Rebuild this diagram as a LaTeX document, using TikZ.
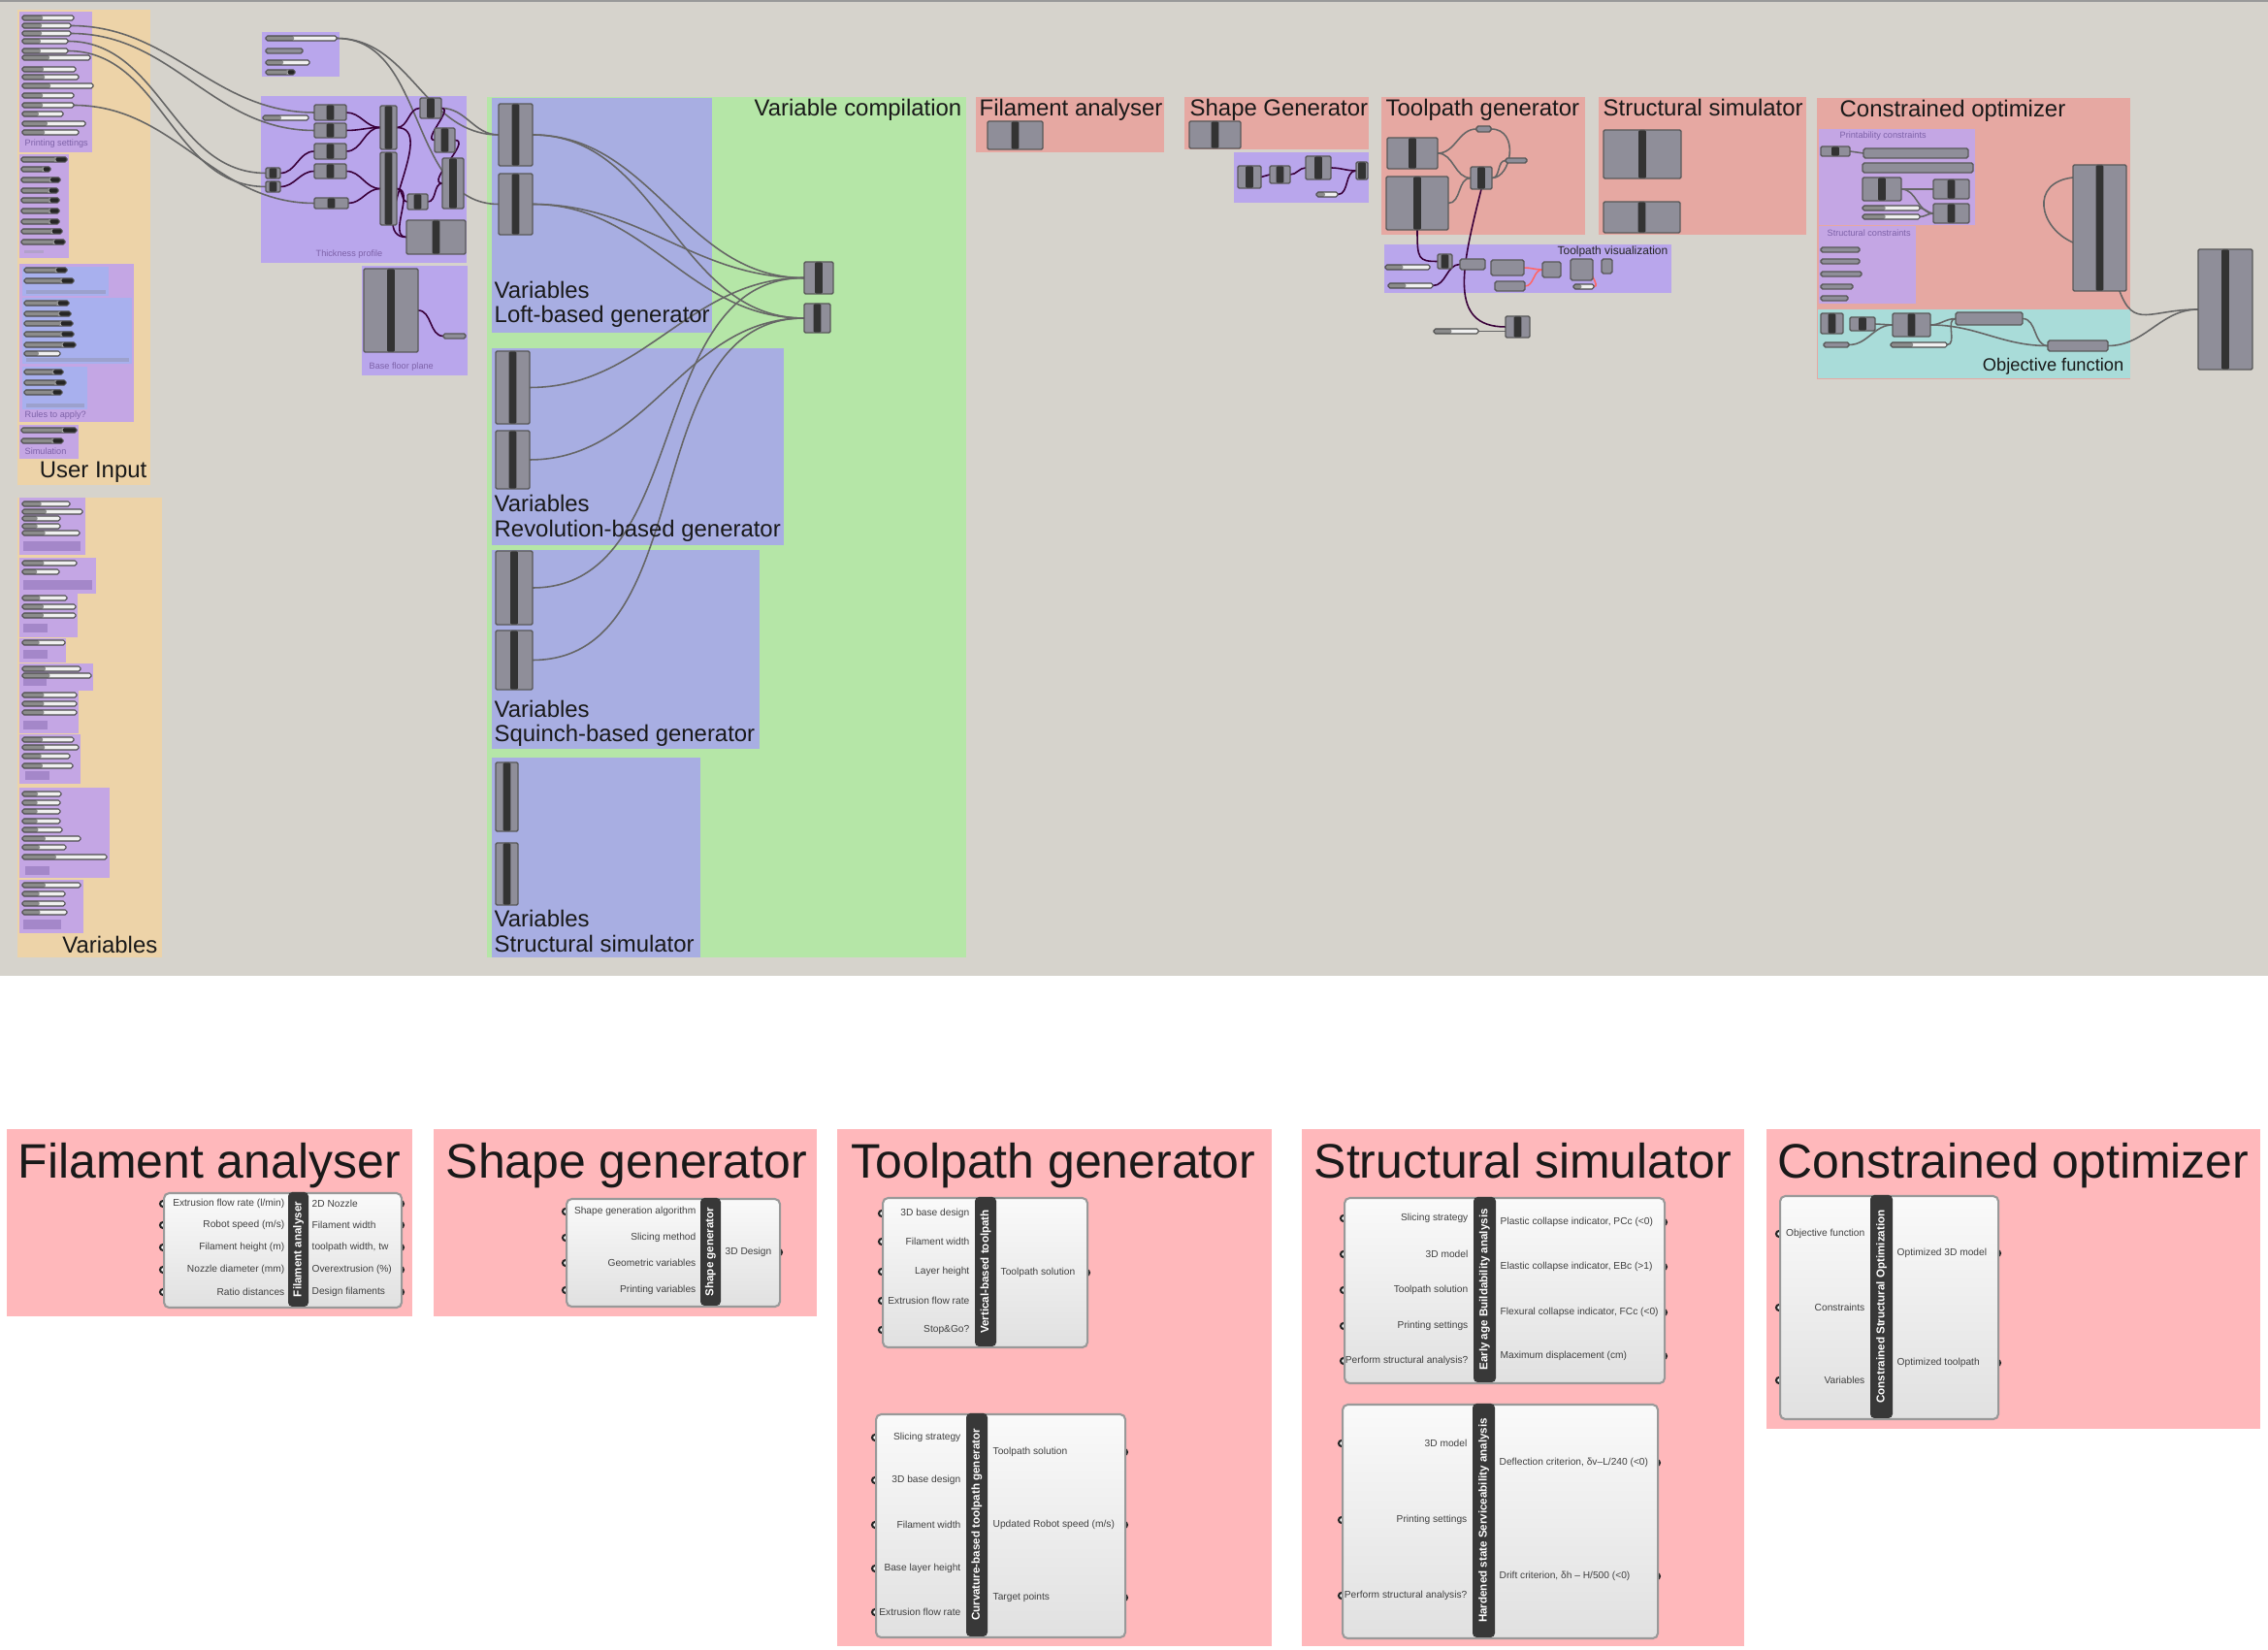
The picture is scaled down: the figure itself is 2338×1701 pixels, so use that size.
\documentclass[tikz,border=0pt]{standalone}
\usepackage{fontspec}
\setmainfont{Liberation Sans}
\usepackage{tikz}
\usetikzlibrary{calc}
\usepackage{xcolor}
\definecolor{canvas}{HTML}{D6D3CC}
\definecolor{uinput}{HTML}{EDD3A8}
\definecolor{vcomp}{HTML}{B5E6A7}
\definecolor{lav}{HTML}{A8AEE2}
\definecolor{purp}{HTML}{C4A6E4}
\definecolor{purpb}{HTML}{B9A6EC}
\definecolor{salmon}{HTML}{E6A8A2}
\definecolor{objcyan}{HTML}{A9DCD9}
\definecolor{panel}{HTML}{FFB8BB}
\definecolor{compgray}{HTML}{8F8E99}
\definecolor{rulesblue}{HTML}{A8B0EE}
\definecolor{grplabel}{HTML}{7D62A8}
\pgfdeclarelayer{grp}
\pgfdeclarelayer{wires}
\pgfsetlayers{grp,wires,main}

\begin{document}
\begin{tikzpicture}[x=0.01cm,y=-0.01cm,
    ttl/.style={font=\fontsize{6.8}{7}\selectfont, text=black!90, inner sep=0, anchor=base west},
    bigttl/.style={font=\fontsize{14.2}{15}\selectfont, text=black!90, inner sep=0, anchor=base west},
    tiny/.style={font=\fontsize{2.6}{3}\selectfont, text=grplabel, inner sep=0, anchor=base west},
    comp/.style 2 args={draw=black!65, fill=compgray, line width=0.4pt, rounded corners=0.4pt,
      anchor=north west, inner sep=0, outer sep=0,
      minimum width=#1*0.01cm, minimum height=#2*0.01cm,
      path picture={\fill[black!80] ([xshift=-1.1pt]path picture bounding box.north)
        rectangle ([xshift=1.1pt]path picture bounding box.south);}},
    pbar/.style 2 args={draw=black!65, fill=compgray, line width=0.4pt, rounded corners=0.5pt,
      anchor=north west, inner sep=0, outer sep=0,
      minimum width=#1*0.01cm, minimum height=#2*0.01cm},
    sld/.style={draw=black!70, fill=gray!12, line width=0.3pt, rounded corners=0.5pt,
      anchor=north west, inner sep=0, outer sep=0, minimum height=0.05cm, minimum width=#1*0.01cm,
      path picture={\fill[black!45] (path picture bounding box.south west)
        rectangle ($(path picture bounding box.north west)!0.4!(path picture bounding box.north east)$);}},
    nsld/.style={sld=#1,
      path picture={\fill[black!45] (path picture bounding box.south west)
        rectangle ($(path picture bounding box.north west)!0.75!(path picture bounding box.north east)$);
        \fill[black!85] ($(path picture bounding box.south west)!0.75!(path picture bounding box.south east)$)
        rectangle (path picture bounding box.north east);}},
    wire/.style={draw=black!60, line width=0.45pt},
    pwire/.style={draw=black!55!violet, line width=0.45pt},
    rwire/.style={draw=red!60, line width=0.45pt},
    gbox/.style 2 args={draw=black!40, top color=gray!4, bottom color=gray!24, line width=0.6pt,
      rounded corners=1.5pt, anchor=north west, inner sep=0,
      minimum width=#1*0.01cm, minimum height=#2*0.01cm},
    lbar/.style 2 args={fill=black!78, text=white, rounded corners=1.2pt, rotate=90, inner sep=0,
      minimum width=#1*0.01cm, minimum height=#2*0.01cm, font=\bfseries\fontsize{3.3}{4}\selectfont},
    inl/.style={font=\fontsize{2.9}{3.3}\selectfont, text=black!75, inner sep=0, anchor=east},
    outl/.style={inl, anchor=west},
    port/.style={draw=black!85, fill=white, line width=0.6pt}]
\useasboundingbox (0,0) rectangle (2338,1701);

\begin{pgfonlayer}{grp}
  \fill[white] (0,0) rectangle (2338,1701);
  \fill[canvas] (0,0) rectangle (2338,1006);
  \draw[black!40, line width=0.8pt] (0,1) -- (2338,1);
  \fill[uinput] (18,10) rectangle (155,500);
  \fill[purp] (20,12) rectangle (95,157);
  \fill[purp] (20,159) rectangle (71,266);
  \fill[purp] (20,272) rectangle (138,435);
  \fill[rulesblue] (23,275) rectangle (112,305);
  \fill[rulesblue] (23,307) rectangle (136,375);
  \fill[rulesblue] (23,378) rectangle (90,422);
  \fill[purp] (20,438) rectangle (81,473);
  \fill[uinput] (18,513) rectangle (167,987);
  \foreach \a/\b/\c/\d in {20/513/88/572, 20/575/99/612, 20/612/80/657, 20/658/68/683, 20/684/96/712,
      20/712/81/756, 20/757/83/808, 20/812/113/905, 20/907/86/962}
    \fill[purp] (\a,\b) rectangle (\c,\d);
  \fill[purpb] (270,33) rectangle (350,79);
  \fill[purpb] (269,99) rectangle (481,271);
  \fill[purpb] (373,274) rectangle (482,387);
  \fill[vcomp] (502,100) rectangle (996,987);
  \fill[lav] (507,101) rectangle (734,343);
  \fill[lav] (507,359) rectangle (808,562);
  \fill[lav] (507,567) rectangle (783,772);
  \fill[lav] (507,781) rectangle (722,987);
  \fill[salmon] (1006,100) rectangle (1200,157);
  \fill[salmon] (1221,100) rectangle (1411,154);
  \fill[purpb] (1272,157) rectangle (1411,209);
  \fill[salmon] (1424,100) rectangle (1634,242);
  \fill[purpb] (1427,252) rectangle (1723,302);
  \fill[salmon] (1648,100) rectangle (1862,242);
  \fill[salmon] (1873,101) rectangle (2196,391);
  \fill[purp] (1875,133) rectangle (2036,232);
  \fill[purp] (1875,233) rectangle (1975,313);
  \fill[objcyan] (1874,319) rectangle (2196,390);
\end{pgfonlayer}

\foreach \y/\w [count=\i] in {16/53,24/50,32/50,40/47,50/47,57/70,69/55,77/58,86/73,96/53,106/53,115/42,125/65,134/58}
  \node[sld=\w] (ps\i) at (23,\y) {};
\node[tiny] (psL) at (25,151) {Printing settings};
\foreach \y/\w [count=\i] in {162/47,172/30,183/40,194/38,204/39,215/39,226/39,236/42,247/45}
  \node[nsld=\w] (ns\i) at (22,\y) {};
\fill[grplabel!60] (25,258) rectangle (45,261);
\foreach \y/\w [count=\i] in {276/44,287/51,310/46,321/48,331/50,342/51,353/53,381/40,392/43,402/39}
  \node[nsld=\w] (ru\i) at (25,\y) {};
\node[sld=37] (ru11) at (25,362) {};
\fill[rulesblue!70!gray] (27,299) rectangle (109,303);
\fill[rulesblue!70!gray] (27,369) rectangle (133,373);
\fill[rulesblue!70!gray] (27,416) rectangle (87,420);
\node[tiny] (ruL) at (25,431) {Rules to apply?};
\node[nsld=57] (si1) at (22,441) {};
\node[nsld=43] (si2) at (22,452) {};
\node[tiny] (siL) at (25,469) {Simulation};
\node[ttl, anchor=base east] (uiL) at (152,493) {User Input};

\foreach \a/\b/\c/\d in {24/558/83/568, 24/598/95/608, 24/643/49/652, 24/670/49/679, 24/700/48/707,
    24/743/49/752, 26/795/51/804, 26/893/51/902, 24/948/63/958}
  \fill[grplabel!45!purp] (\a,\b) rectangle (\c,\d);
\foreach \y/\w [count=\i] in {517/49,525/62,532/39,540/39,547/59,578/56,587/38,614/46,623/55,632/55,660/44,
    687/60,694/71,714/56,723/56,732/56,760/53,768/58,777/49,787/52,816/40,825/39,834/39,844/39,853/41,
    862/60,871/45,881/87,910/60,919/44,929/44,938/46}
  \node[sld=\w] (va\i) at (23,\y) {};
\node[ttl, anchor=base east] (vaL) at (163,983) {Variables};

\node[sld=73] (tl1) at (274,37) {};
\node[pbar={38}{5}] (tl2) at (274,50) {};
\node[sld=45] (tl3) at (274,62) {};
\node[nsld=30] (tl4) at (274,72) {};

\node[comp={33}{16}] (tp1) at (324,108) {};
\node[comp={33}{15}] (tp2) at (324,127) {};
\node[comp={33}{16}] (tp3) at (324,148) {};
\node[comp={33}{15}] (tp4) at (324,169) {};
\node[comp={35}{11}] (tp5) at (324,204) {};
\node[comp={15}{11}] (tps1) at (274,173) {};
\node[comp={15}{11}] (tps2) at (274,187) {};
\node[sld=47] (tpsl) at (271,119) {};
\node[comp={17}{45}] (tpt1) at (392,109) {};
\node[comp={17}{75}] (tpt2) at (392,157) {};
\node[comp={22}{21}] (tpr1) at (433,101) {};
\node[comp={21}{25}] (tpr2) at (448,132) {};
\node[comp={22}{52}] (tpr3) at (456,163) {};
\node[comp={21}{16}] (tpr4) at (420,200) {};
\node[comp={61}{35}] (tpr5) at (419,227) {};
\node[tiny] (tpL) at (325,265) {Thickness profile};
\node[comp={56}{86}] (bf1) at (375,277) {};
\node[pbar={23}{5}] (bfs) at (457,344) {};
\node[tiny] (bfL) at (380,381) {Base floor plane};

\node[ttl] (vcL) at (777,120) {Variable compilation};
\node[comp={35}{64}] (lf1) at (514,107) {};
\node[comp={35}{63}] (lf2) at (514,179) {};
\node[ttl] (lfL1) at (509,308) {Variables};
\node[ttl] (lfL2) at (509,333) {Loft-based generator};
\node[comp={35}{75}] (rv1) at (511,362) {};
\node[comp={35}{60}] (rv2) at (511,444) {};
\node[ttl] (rvL1) at (509,528) {Variables};
\node[ttl] (rvL2) at (509,554) {Revolution-based generator};
\node[comp={38}{76}] (sq1) at (511,568) {};
\node[comp={38}{61}] (sq2) at (511,650) {};
\node[ttl] (sqL1) at (509,740) {Variables};
\node[ttl] (sqL2) at (509,765) {Squinch-based generator};
\node[comp={23}{71}] (ss1) at (511,786) {};
\node[comp={23}{64}] (ss2) at (511,869) {};
\node[ttl] (ssL1) at (509,956) {Variables};
\node[ttl] (ssL2) at (509,982) {Structural simulator};
\node[comp={30}{33}] (col1) at (829,270) {};
\node[comp={27}{30}] (col2) at (829,313) {};

\node[ttl] (faL) at (1009,120) {Filament analyser};
\node[comp={57}{29}] (fac) at (1018,125) {};
\node[ttl] (sgL) at (1226,120) {Shape Generator};
\node[comp={53}{28}] (sgc) at (1226,125) {};
\node[comp={24}{23}] (sg1) at (1276,171) {};
\node[comp={21}{18}] (sg2) at (1309,171) {};
\node[comp={26}{24}] (sg3) at (1346,161) {};
\node[comp={12}{18}] (sg4) at (1398,167) {};
\node[sld=22] (sgs) at (1357,198) {};

\node[ttl] (tgL) at (1428,120) {Toolpath generator};
\node[comp={52}{32}] (tg1) at (1430,142) {};
\node[comp={64}{55}] (tg2) at (1429,182) {};
\node[comp={22}{23}] (tgs) at (1516,172) {};
\node[pbar={15}{6}] (tgb1) at (1522,130) {};
\node[pbar={22}{5}] (tgb2) at (1552,163) {};
\node[font=\fontsize{3.4}{4}\selectfont, text=black!85, inner sep=0, anchor=base east] (tvL) at (1720,263) {Toolpath visualization};
\node[comp={15}{15}] (tv1) at (1482,262) {};
\node[pbar={26}{11}] (tv2) at (1505,267) {};
\node[pbar={34}{16}] (tv3) at (1537,268) {};
\node[pbar={31}{10}] (tv4) at (1541,290) {};
\node[pbar={19}{16}] (tv5) at (1590,270) {};
\node[pbar={23}{22}] (tv6) at (1619,267) {};
\node[pbar={11}{15}] (tv7) at (1651,267) {};
\node[sld=46] (tvs1) at (1428,273) {};
\node[sld=46] (tvs2) at (1431,292) {};
\node[sld=21] (tvs3) at (1622,293) {};
\node[comp={25}{22}] (tgl) at (1552,326) {};
\node[sld=46] (tgls) at (1478,339) {};

\node[ttl] (stL) at (1652,120) {Structural simulator};
\node[comp={80}{50}] (st1) at (1653,134) {};
\node[comp={79}{32}] (st2) at (1653,208) {};

\node[ttl] (coL) at (1896,121) {Constrained optimizer};
\node[tiny] (pcL) at (1896,143) {Printability constraints};
\node[tiny] (scL) at (1883,244) {Structural constraints};
\node[comp={30}{10}] (pc1) at (1877,151) {};
\node[pbar={108}{10}] (pcb1) at (1921,153) {};
\node[pbar={114}{10}] (pcb2) at (1920,168) {};
\node[comp={40}{24}] (pc2) at (1920,183) {};
\node[comp={37}{20}] (pc3) at (1993,185) {};
\node[comp={37}{20}] (pc4) at (1993,210) {};
\node[sld=59] (pcs1) at (1920,212) {};
\node[sld=59] (pcs2) at (1920,221) {};
\foreach \y/\w [count=\i] in {255/40,267/40,280/42,293/33,305/28}
  \node[pbar={\w}{5}] (scb\i) at (1877,\y) {};
\node[comp={55}{130}] (co1) at (2137,170) {};
\node[comp={23}{21}] (ob1) at (1877,323) {};
\node[comp={26}{14}] (ob2) at (1907,327) {};
\node[comp={39}{24}] (ob3) at (1951,323) {};
\node[pbar={69}{13}] (obb1) at (2016,322) {};
\node[pbar={62}{11}] (obb2) at (2111,351) {};
\node[pbar={26}{5}] (obs1) at (1880,353) {};
\node[sld=58] (obs2) at (1949,353) {};
\node[font=\fontsize{5.2}{6}\selectfont, text=black!90, inner sep=0, anchor=base east] (ofL) at (2190,383) {Objective function};
\node[comp={56}{124}] (co2) at (2266,257) {};

\begin{pgfonlayer}{wires}
  \draw[wire] (ps2.east) to[out=0,in=180] (tp1.west);
  \draw[wire] (ps3.east) to[out=0,in=180] (tp2.west);
  \draw[wire] (ps4.east) to[out=0,in=180] (tps1.west);
  \draw[wire] (ps5.east) to[out=0,in=180] (tps2.west);
  \draw[wire] (ps11.east) to[out=0,in=180] (tp5.west);
  \draw[wire] (tl1.east) to[out=0,in=180] (lf1.west);
  \draw[wire] (tl1.east) to[out=0,in=180] (lf2.west);
  \draw[wire] (tpr1.east) to[out=0,in=180] (lf1.west);
  \draw[pwire] (tps1.east) to[out=0,in=180] (tp3.west);
  \draw[pwire] (tps2.east) to[out=0,in=180] (tp4.west);
  \draw[pwire] (tp1.east) to[out=0,in=180] (tpt1.west);
  \draw[pwire] (tp2.east) to[out=0,in=180] (tpt1.west);
  \draw[pwire] (tp3.east) to[out=0,in=180] (tpt1.west);
  \draw[pwire] (tp4.east) to[out=0,in=180] (tpt2.west);
  \draw[pwire] (tp5.east) to[out=0,in=180] (tpt2.west);
  \draw[pwire] (tpt1.east) to[out=0,in=180] (tpr1.west);
  \draw[pwire] (tpr1.east) to[out=0,in=180] (tpr2.west);
  \draw[pwire] (tpr2.east) to[out=0,in=180] (tpr3.west);
  \draw[pwire] (tpt2.east) to[out=0,in=180] (tpr4.west);
  \draw[pwire] (tpr4.east) to[out=0,in=180] (tpr3.west);
  \draw[pwire] (tpt1.east) to[out=0,in=180] (tpr5.west);
  \draw[pwire] (tpt2.east) to[out=0,in=180] (tpr5.west);
  \draw[pwire] (bf1.east) to[out=0,in=180] (bfs.west);
  \foreach \s in {lf1,lf2,rv1,sq1} \draw[wire] (\s.east) to[out=0,in=180] (col1.west);
  \foreach \s in {lf1,lf2,rv2,sq2} \draw[wire] (\s.east) to[out=0,in=180] (col2.west);
  \draw[pwire] (sg1.east) -- (sg2.west);
  \draw[pwire] (sg2.east) to[out=0,in=180] (sg3.west);
  \draw[pwire] (sg3.east) to[out=0,in=180] (sg4.west);
  \draw[pwire] (sgs.east) to[out=0,in=180] (sg4.west);
  \draw[wire] (tg1.east) to[out=0,in=180] (tgs.west);
  \draw[wire] (tg2.east) to[out=0,in=180] (tgs.west);
  \draw[wire] (tg1.east) to[out=0,in=180] (tgb1.west);
  \draw[wire] (tgb1.east) .. controls +(30,0) and +(20,0) .. (tgs.east);
  \draw[wire] (tgs.east) to[out=0,in=180] (tgb2.west);
  \draw[pwire] (tg2.south) .. controls +(0,30) and +(-20,0) .. (tv1.west);
  \draw[pwire] (tgs.south) .. controls +(-20,80) and +(-60,0) .. (tgl.west);
  \draw[pwire] (tvs2.east) to[out=0,in=180] (tv2.west);
  \draw[rwire] (tv3.east) to[out=0,in=180] (tv5.west);
  \draw[rwire] (tv4.east) to[out=0,in=180] (tv5.west);
  \draw[rwire] (tvs3.east) .. controls +(8,0) and +(-8,0) .. (tv6.east);
  \draw[wire] (tgls.east) -- (tgl.west |- tgls.east);
  \draw[wire] (pc1.east) -- (pcb1.west);
  \draw[wire] (pc2.east) to[out=0,in=180] (pc3.west);
  \draw[wire] (pc2.east) to[out=0,in=180] (pc4.west);
  \draw[wire] (pcs1.east) to[out=0,in=180] (pc4.west);
  \draw[wire] (pcs2.east) to[out=0,in=180] (pc4.west);
  \draw[wire] ($(co1.north west)+(0,13)$) .. controls +(-45,5) and +(-35,-15) .. ($(co1.north west)+(0,80)$);
  \draw[wire] (ob2.east) -- (ob3.west);
  \draw[wire] (obs1.east) to[out=0,in=180] (ob3.west);
  \draw[wire] (ob3.east) to[out=0,in=180] (obb1.west);
  \draw[wire] (ob3.east) to[out=0,in=180] (obb2.west);
  \draw[wire] (obs2.east) to[out=0,in=180] (obb1.west);
  \draw[wire] (obb1.east) to[out=0,in=180] (obb2.west);
  \draw[wire] (obb2.east) to[out=0,in=180] (co2.west);
  \draw[wire] ([xshift=-2pt]co1.south east) .. controls +(15,40) and +(-50,0) .. (co2.west);
\end{pgfonlayer}

\fill[panel] (7,1164) rectangle (425,1357);
\node[bigttl] (faT) at (18,1215) {Filament analyser};
\foreach \y in {1241,1263,1286,1309,1332} {
  \draw[port] (168,\y) circle[radius=3];
  \draw[port] (413,\y) circle[radius=3];
}
\node[gbox={245}{118}] (fa) at (168,1229) {};
\node[lbar={118}{21}] (faB) at (307.5,1288) {Filament analyser};
\foreach \y/\lbl [count=\i] in {1241/{Extrusion flow rate (l/min)}, 1263/{Robot speed (m/s)}, 1286/Filament height (m),
    1309/Nozzle diameter (mm), 1332/Ratio distances}
  \node[inl] (faI\i) at (294,\y) {\lbl};
\foreach \y/\lbl [count=\i] in {1241/2D Nozzle, 1263/Filament width, 1286/{toolpath width, tw},
    1309/Overextrusion (\%), 1332/Design filaments}
  \node[outl] (faO\i) at (321,\y) {\lbl};

\fill[panel] (447,1164) rectangle (842,1357);
\node[bigttl] (sgT) at (459,1215) {Shape generator};
\foreach \y in {1249,1276,1302,1330} \draw[port] (583,\y) circle[radius=3];
\draw[port] (803,1291) circle[radius=3];
\node[gbox={220}{111}] (sg) at (583,1235) {};
\node[lbar={111}{21}] (sgB) at (732.5,1290.5) {Shape generator};
\foreach \y/\lbl [count=\i] in {1249/Shape generation algorithm, 1276/Slicing method, 1302/Geometric variables,
    1330/Printing variables}
  \node[inl] (sgI\i) at (718,\y) {\lbl};
\node[outl] (sgO1) at (747,1291) {3D Design};

\fill[panel] (863,1164) rectangle (1311,1697);
\node[bigttl] (tgT) at (877,1215) {Toolpath generator};
\foreach \y in {1251,1280,1311,1341,1371} \draw[port] (909,\y) circle[radius=3];
\draw[port] (1120,1312) circle[radius=3];
\node[gbox={211}{154}] (vt) at (909,1234) {};
\node[lbar={154}{22}] (vtB) at (1016,1311) {Vertical-based toolpath};
\foreach \y/\lbl [count=\i] in {1251/3D base design, 1280/Filament width, 1311/Layer height,
    1341/Extrusion flow rate, 1371/Stop\&Go?}
  \node[inl] (vtI\i) at (1000,\y) {\lbl};
\node[outl] (vtO1) at (1031,1312) {Toolpath solution};
\foreach \y in {1482,1526,1572,1617,1662} \draw[port] (902,\y) circle[radius=3];
\foreach \y in {1497,1572,1647} \draw[port] (1159,\y) circle[radius=3];
\node[gbox={257}{230}] (ct) at (902,1457) {};
\node[lbar={230}{22}] (ctB) at (1007,1572) {Curvature-based toolpath generator};
\foreach \y/\lbl [count=\i] in {1482/Slicing strategy, 1526/3D base design, 1572/Filament width,
    1617/Base layer height, 1662/Extrusion flow rate}
  \node[inl] (ctI\i) at (991,\y) {\lbl};
\foreach \y/\lbl [count=\i] in {1497/Toolpath solution, 1572/{Updated Robot speed (m/s)}, 1647/Target points}
  \node[outl] (ctO\i) at (1023,\y) {\lbl};

\fill[panel] (1342,1164) rectangle (1798,1697);
\node[bigttl] (stT) at (1354,1215) {Structural simulator};
\foreach \y in {1256,1293,1330,1367,1403} \draw[port] (1385,\y) circle[radius=3];
\foreach \y in {1260,1306,1353,1398} \draw[port] (1715,\y) circle[radius=3];
\node[gbox={330}{191}] (eb) at (1385,1234) {};
\node[lbar={191}{23}] (ebB) at (1530.5,1329.5) {Early age Buildability analysis};
\foreach \y/\lbl [count=\i] in {1256/Slicing strategy, 1293/3D model, 1330/Toolpath solution,
    1367/Printing settings, 1403/Perform structural analysis?}
  \node[inl] (ebI\i) at (1514,\y) {\lbl};
\foreach \y/\lbl [count=\i] in {1260/{Plastic collapse indicator, PCc (<0)}, 1306/{Elastic collapse indicator, EBc (>1)},
    1353/{Flexural collapse indicator, FCc (<0)}, 1398/Maximum displacement (cm)}
  \node[outl] (ebO\i) at (1546,\y) {\lbl};
\foreach \y in {1488,1567,1645} \draw[port] (1383,\y) circle[radius=3];
\foreach \y in {1508,1625} \draw[port] (1708,\y) circle[radius=3];
\node[gbox={325}{241}] (hs) at (1383,1447) {};
\node[lbar={241}{23}] (hsB) at (1529.5,1567.5) {Hardened state Serviceability analysis};
\foreach \y/\lbl [count=\i] in {1488/3D model, 1567/Printing settings, 1645/Perform structural analysis?}
  \node[inl] (hsI\i) at (1513,\y) {\lbl};
\foreach \y/\lbl [count=\i] in {1508/{Deflection criterion, δv–L/240 (<0)}, 1625/{Drift criterion, δh – H/500 (<0)}}
  \node[outl] (hsO\i) at (1545,\y) {\lbl};

\fill[panel] (1821,1164) rectangle (2330,1473);
\node[bigttl] (coT) at (1832,1215) {Constrained optimizer};
\foreach \y in {1272,1348,1423} \draw[port] (1834,\y) circle[radius=3];
\foreach \y in {1292,1405} \draw[port] (2059,\y) circle[radius=3];
\node[gbox={225}{230}] (cs) at (1834,1232) {};
\node[lbar={230}{23}] (csB) at (1939.5,1347) {Constrained Structural Optimization};
\foreach \y/\lbl [count=\i] in {1272/Objective function, 1348/Constraints, 1423/Variables}
  \node[inl] (csI\i) at (1923,\y) {\lbl};
\foreach \y/\lbl [count=\i] in {1292/Optimized 3D model, 1405/Optimized toolpath}
  \node[outl] (csO\i) at (1955,\y) {\lbl};
\end{tikzpicture}
\end{document}
